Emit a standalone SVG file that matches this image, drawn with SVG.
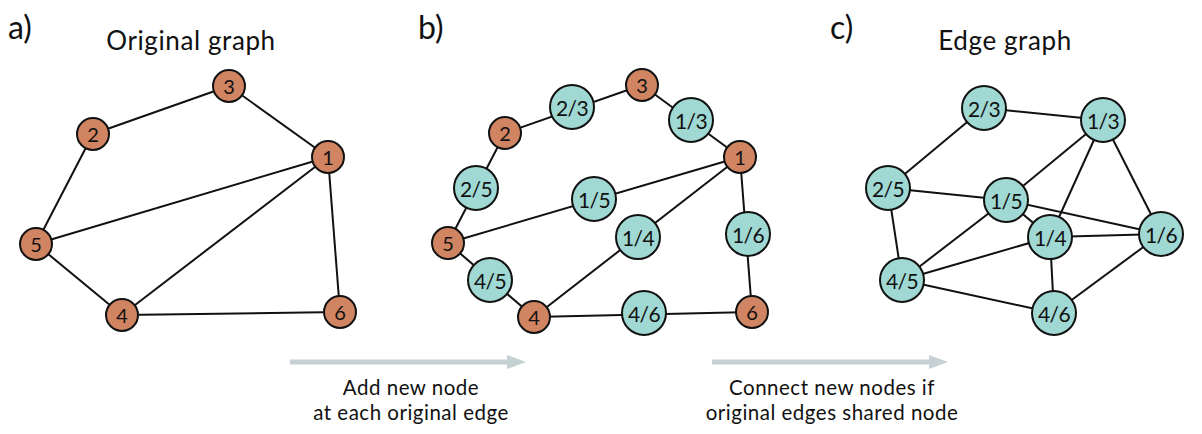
<svg xmlns="http://www.w3.org/2000/svg" width="1202" height="434" viewBox="0 0 1202 434">
<style>
.e{stroke:#111;stroke-width:2;fill:none}
.o{fill:#d08462;stroke:#111;stroke-width:2}
.t{fill:#a0d9d3;stroke:#111;stroke-width:2}
.lo{font-family:Lato,"Open Sans",sans-serif;font-size:20px;fill:#111;text-anchor:middle;dominant-baseline:central}
.lt{font-family:Lato,"Open Sans",sans-serif;font-size:21px;fill:#111;text-anchor:middle;dominant-baseline:central;letter-spacing:-0.6px}
.h{font-family:Lato,"Open Sans",sans-serif;font-size:32px;fill:#111}
.ti{font-family:Lato,"Open Sans",sans-serif;font-size:26px;fill:#111;text-anchor:middle;letter-spacing:0.6px}
.cap{font-family:Lato,"Open Sans",sans-serif;font-size:20.5px;fill:#111;text-anchor:middle;letter-spacing:0.5px}
.arr{stroke:#c5d1d3;stroke-width:5}
</style>
<text class="h" x="8" y="39">a)</text>
<text class="ti" x="191" y="50">Original graph</text>
<text class="h" x="418" y="39">b)</text>
<text class="h" x="830" y="39">c)</text>
<text class="ti" x="1005" y="50">Edge graph</text>

<g id="arrows">
<line class="arr" x1="290" y1="362" x2="510" y2="362"/>
<polygon points="507,355 526,362 507,369" fill="#c5d1d3"/>
<line class="arr" x1="712" y1="362" x2="932" y2="362"/>
<polygon points="929,355 948,362 929,369" fill="#c5d1d3"/>
</g>
<text class="cap" x="411" y="395">Add new node</text>
<text class="cap" x="411" y="420">at each original edge</text>
<text class="cap" x="832" y="395">Connect new nodes if</text>
<text class="cap" x="832" y="420">original edges shared node</text>

<g id="connectors">
<!-- a -->
<line class="e" x1="93" y1="134" x2="229" y2="86"/>
<line class="e" x1="229" y1="86" x2="328" y2="157"/>
<line class="e" x1="93" y1="134" x2="36" y2="244"/>
<line class="e" x1="36" y1="244" x2="328" y2="157"/>
<line class="e" x1="36" y1="244" x2="122" y2="315"/>
<line class="e" x1="122" y1="315" x2="328" y2="157"/>
<line class="e" x1="328" y1="157" x2="340" y2="312"/>
<line class="e" x1="122" y1="315" x2="340" y2="312"/>
<!-- b -->
<line class="e" x1="505" y1="133" x2="642" y2="85"/>
<line class="e" x1="642" y1="85" x2="740" y2="157"/>
<line class="e" x1="505" y1="133" x2="448" y2="243"/>
<line class="e" x1="448" y1="243" x2="740" y2="157"/>
<line class="e" x1="448" y1="243" x2="534" y2="317"/>
<line class="e" x1="534" y1="317" x2="740" y2="157"/>
<line class="e" x1="740" y1="157" x2="752" y2="312"/>
<line class="e" x1="534" y1="317" x2="752" y2="312"/>
<!-- c -->
<line class="e" x1="984" y1="108" x2="1103" y2="120"/>
<line class="e" x1="984" y1="108" x2="888" y2="188"/>
<line class="e" x1="888" y1="188" x2="1006" y2="200"/>
<line class="e" x1="888" y1="188" x2="902" y2="280"/>
<line class="e" x1="1103" y1="120" x2="1006" y2="200"/>
<line class="e" x1="1103" y1="120" x2="1050" y2="237"/>
<line class="e" x1="1103" y1="120" x2="1161" y2="234"/>
<line class="e" x1="1006" y1="200" x2="1161" y2="234"/>
<line class="e" x1="1006" y1="200" x2="1050" y2="237"/>
<line class="e" x1="1006" y1="200" x2="902" y2="280"/>
<line class="e" x1="1050" y1="237" x2="1161" y2="234"/>
<line class="e" x1="1050" y1="237" x2="902" y2="280"/>
<line class="e" x1="1050" y1="237" x2="1054" y2="313"/>
<line class="e" x1="902" y1="280" x2="1054" y2="313"/>
<line class="e" x1="1054" y1="313" x2="1161" y2="234"/>
</g>

<g id="a1"><circle class="o" cx="328" cy="157" r="16"/><text class="lo" x="328" y="157">1</text></g>
<g id="a2"><circle class="o" cx="93" cy="134" r="16"/><text class="lo" x="93" y="134">2</text></g>
<g id="a3"><circle class="o" cx="229" cy="86" r="16"/><text class="lo" x="229" y="86">3</text></g>
<g id="a4"><circle class="o" cx="122" cy="315" r="16"/><text class="lo" x="122" y="315">4</text></g>
<g id="a5"><circle class="o" cx="36" cy="244" r="16"/><text class="lo" x="36" y="244">5</text></g>
<g id="a6"><circle class="o" cx="340" cy="312" r="16"/><text class="lo" x="340" y="312">6</text></g>

<g id="b1"><circle class="o" cx="740" cy="157" r="16"/><text class="lo" x="740" y="157">1</text></g>
<g id="b2"><circle class="o" cx="505" cy="133" r="16"/><text class="lo" x="505" y="133">2</text></g>
<g id="b3"><circle class="o" cx="642" cy="85" r="16"/><text class="lo" x="642" y="85">3</text></g>
<g id="b4"><circle class="o" cx="534" cy="317" r="16"/><text class="lo" x="534" y="317">4</text></g>
<g id="b5"><circle class="o" cx="448" cy="243" r="16"/><text class="lo" x="448" y="243">5</text></g>
<g id="b6"><circle class="o" cx="752" cy="312" r="16"/><text class="lo" x="752" y="312">6</text></g>
<g id="b23"><circle class="t" cx="572" cy="107" r="22"/><text class="lt" x="572" y="107">2/3</text></g>
<g id="b13"><circle class="t" cx="691" cy="120" r="22"/><text class="lt" x="691" y="120">1/3</text></g>
<g id="b25"><circle class="t" cx="476" cy="188" r="22"/><text class="lt" x="476" y="188">2/5</text></g>
<g id="b15"><circle class="t" cx="594" cy="199" r="22"/><text class="lt" x="594" y="199">1/5</text></g>
<g id="b14"><circle class="t" cx="638" cy="237" r="22"/><text class="lt" x="638" y="237">1/4</text></g>
<g id="b16"><circle class="t" cx="748" cy="234" r="22"/><text class="lt" x="748" y="234">1/6</text></g>
<g id="b45"><circle class="t" cx="490" cy="280" r="22"/><text class="lt" x="490" y="280">4/5</text></g>
<g id="b46"><circle class="t" cx="644" cy="313" r="22"/><text class="lt" x="644" y="313">4/6</text></g>

<g id="c23"><circle class="t" cx="984" cy="108" r="22"/><text class="lt" x="984" y="108">2/3</text></g>
<g id="c13"><circle class="t" cx="1103" cy="120" r="22"/><text class="lt" x="1103" y="120">1/3</text></g>
<g id="c25"><circle class="t" cx="888" cy="188" r="22"/><text class="lt" x="888" y="188">2/5</text></g>
<g id="c15"><circle class="t" cx="1006" cy="200" r="22"/><text class="lt" x="1006" y="200">1/5</text></g>
<g id="c14"><circle class="t" cx="1050" cy="237" r="22"/><text class="lt" x="1050" y="237">1/4</text></g>
<g id="c16"><circle class="t" cx="1161" cy="234" r="22"/><text class="lt" x="1161" y="234">1/6</text></g>
<g id="c45"><circle class="t" cx="902" cy="280" r="22"/><text class="lt" x="902" y="280">4/5</text></g>
<g id="c46"><circle class="t" cx="1054" cy="313" r="22"/><text class="lt" x="1054" y="313">4/6</text></g>
</svg>
